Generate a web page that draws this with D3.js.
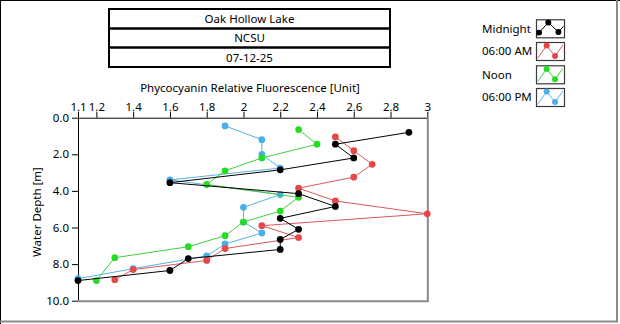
<!DOCTYPE html>
<html>
<head>
<meta charset="utf-8">
<script src="https://cdn.jsdelivr.net/npm/d3@7"></script>
<style>
  html, body { margin: 0; padding: 0; background: #fff; }
  svg { display: block; font-family: "Noto Sans", "Open Sans", sans-serif; }
</style>
</head>
<body>
<svg id="chart" width="620" height="324"></svg>
<script>
// Header rows
const titleLines = ["Oak Hollow Lake", "NCSU", "07-12-25"];

// Axis text
const xTitle = "Phycocyanin Relative Fluorescence [Unit]";
const yTitle = "Water Depth [m]";
const xTicks = [1.1, 1.2, 1.4, 1.6, 1.8, 2, 2.2, 2.4, 2.6, 2.8, 3];
const yTicks = [0, 2, 4, 6, 8, 10];

// Profiles: fluorescence value and depth of each reading
const seriesNames = ["Midnight", "06:00 AM", "Noon", "06:00 PM"];
const midnightX = [2.9, 2.5, 2.6, 2.2, 1.6, 2.3, 2.5, 2.2, 2.3, 2.2, 2.2, 1.7, 1.6, 1.1];
const midnightDepth = [0.8, 1.45, 2.2, 2.85, 3.55, 4.15, 4.85, 5.5, 6.1, 6.65, 7.2, 7.7, 8.35, 8.9];
const morningX = [2.5, 2.6, 2.7, 2.6, 2.3, 2.5, 3.0, 2.1, 2.3, 1.9, 1.8, 1.4, 1.3];
const morningDepth = [1.05, 1.8, 2.55, 3.25, 3.85, 4.55, 5.25, 5.9, 6.55, 7.15, 7.8, 8.3, 8.85];
const noonX = [2.3, 2.4, 2.1, 1.9, 1.8, 2.3, 2.2, 2.0, 1.9, 1.7, 1.3, 1.2];
const noonDepth = [0.65, 1.45, 2.2, 2.9, 3.65, 4.35, 5.1, 5.7, 6.45, 7.05, 7.65, 8.9];
const eveningX = [1.9, 2.1, 2.1, 2.2, 1.6, 2.2, 2.0, 2.0, 2.1, 1.9, 1.8, 1.4, 1.1];
const eveningDepth = [0.45, 1.2, 2.0, 2.75, 3.4, 4.2, 4.9, 5.7, 6.3, 6.9, 7.55, 8.25, 8.8];

const seriesColors = ["#000000", "#e5474b", "#22dd22", "#4aaee8"];
const lineColors = ["#000000", "#d9585b", "#3fcf3f", "#5ab2e2"];

const series = [
  { name: seriesNames[0], xs: midnightX, ds: midnightDepth, color: seriesColors[0], line: lineColors[0] },
  { name: seriesNames[1], xs: morningX, ds: morningDepth, color: seriesColors[1], line: lineColors[1] },
  { name: seriesNames[2], xs: noonX, ds: noonDepth, color: seriesColors[2], line: lineColors[2] },
  { name: seriesNames[3], xs: eveningX, ds: eveningDepth, color: seriesColors[3], line: lineColors[3] }
];

const svg = d3.select("#chart");
const W = 620, H = 324;

// Panel frame
svg.append("line").attr("x1", 0).attr("x2", W).attr("y1", 0.5).attr("y2", 0.5).attr("stroke", "#000");
svg.append("line").attr("x1", 0.5).attr("x2", 0.5).attr("y1", 0).attr("y2", H).attr("stroke", "#000");
svg.append("line").attr("x1", 617).attr("x2", 617).attr("y1", 0).attr("y2", 322).attr("stroke", "#8a8a8a").attr("stroke-width", 2);
svg.append("line").attr("x1", 0).attr("x2", 618).attr("y1", 321.5).attr("y2", 321.5).attr("stroke", "#8a8a8a").attr("stroke-width", 2);

// Header table
const hdr = { x: 109, w: 281, rows: [9, 28.5, 47.5, 67] };
titleLines.forEach((t, i) => {
  const y0 = hdr.rows[i], y1 = hdr.rows[i + 1];
  svg.append("rect").attr("x", hdr.x).attr("y", y0).attr("width", hdr.w).attr("height", y1 - y0)
    .attr("fill", "none").attr("stroke", "#000").attr("stroke-width", 2);
  svg.append("text").attr("x", hdr.x + hdr.w / 2).attr("y", (y0 + y1) / 2 + 4.3)
    .attr("text-anchor", "middle").attr("font-size", 11.5).attr("fill", "#000").text(t);
});

// Plot area
const plot = { left: 78, right: 427.3, top: 117.7, bottom: 300.7 };
const x = d3.scaleLinear().domain([1.1, 3]).range([plot.left, plot.right]);
const y = d3.scaleLinear().domain([0, 10]).range([plot.top, plot.bottom]);

// Frame of the plot area (sunken look)
svg.append("line").attr("x1", plot.left).attr("x2", plot.right).attr("y1", plot.top + 0.5).attr("y2", plot.top + 0.5).attr("stroke", "#000");
svg.append("line").attr("x1", plot.left + 0.5).attr("x2", plot.left + 0.5).attr("y1", plot.top).attr("y2", plot.bottom).attr("stroke", "#000");
svg.append("line").attr("x1", plot.right + 0.5).attr("x2", plot.right + 0.5).attr("y1", plot.top).attr("y2", plot.bottom + 1).attr("stroke", "#8a8a8a").attr("stroke-width", 2);
svg.append("line").attr("x1", plot.left).attr("x2", plot.right + 1.5).attr("y1", plot.bottom + 0.5).attr("y2", plot.bottom + 0.5).attr("stroke", "#8a8a8a").attr("stroke-width", 2);

// Axes
const xAxis = d3.axisTop(x).tickValues(xTicks).tickSize(6).tickSizeOuter(0)
  .tickFormat(d => d3.format("")(Math.round(d * 10) / 10));
const gx = svg.append("g").attr("transform", `translate(0,${plot.top})`).call(xAxis);
gx.select(".domain").remove();
gx.selectAll(".tick line").attr("stroke", "#000");
gx.selectAll(".tick text").attr("font-size", 11.5).attr("fill", "#000").attr("dy", "0.2em")
  .attr("font-family", "'Noto Sans', sans-serif");

const yAxis = d3.axisLeft(y).tickValues(yTicks).tickSize(6).tickSizeOuter(0)
  .tickFormat(d3.format(".1f"));
const gy = svg.append("g").attr("transform", `translate(${plot.left},0)`).call(yAxis);
gy.select(".domain").remove();
gy.selectAll(".tick line").attr("stroke", "#000");
gy.selectAll(".tick text").attr("font-size", 11.5).attr("fill", "#000").attr("x", -9)
  .attr("font-family", "'Noto Sans', sans-serif");

svg.append("text").attr("x", 250).attr("y", 92).attr("text-anchor", "middle")
  .attr("font-size", 11.5).attr("fill", "#000").text(xTitle);
svg.append("text").attr("transform", "translate(41,212) rotate(-90)").attr("text-anchor", "middle")
  .attr("font-size", 11.5).attr("fill", "#000").text(yTitle);

// Profiles, drawn so that Midnight ends up on top
const lineGen = d3.line().x(p => x(p[0])).y(p => y(p[1]));
const marker = d3.symbol().type(d3.symbolCircle).size(36);
const plotG = svg.append("g");
series.slice().reverse().forEach(s => {
  const pts = s.xs.map((v, i) => [v, s.ds[i]]);
  plotG.append("path").attr("d", lineGen(pts)).attr("fill", "none")
    .attr("stroke", s.line).attr("stroke-width", 1);
  plotG.selectAll(null).data(pts).enter().append("path")
    .attr("d", marker).attr("transform", p => `translate(${x(p[0])},${y(p[1])})`)
    .attr("fill", s.color);
});

// Legend
const leg = { textX: 482, boxX: 536, boxW: 28, boxH: 18, tops: [19.3, 42, 65.3, 88] };
const iconScaleX = d3.scaleLinear().domain([0, 1]).range([0, leg.boxW]);
const iconScaleY = d3.scaleLinear().domain([0, 1]).range([0, leg.boxH]);
const iconShapes = [
  { line: [[0.04, 0.9], [0.11, 0.74], [0.44, 0.18], [0.8, 0.7], [0.98, 0.4]], marks: [[0.11, 0.74], [0.44, 0.18], [0.8, 0.7]] },
  { line: [[0.06, 0.9], [0.38, 0.2], [0.68, 0.78], [0.96, 0.17]], marks: [[0.38, 0.2], [0.68, 0.78]] }
];
series.forEach((s, i) => {
  const top = leg.tops[i];
  svg.append("text").attr("x", leg.textX).attr("y", top + leg.boxH / 2 + 4.2)
    .attr("font-size", 11.5).attr("fill", "#000").text(s.name);
  const g = svg.append("g").attr("transform", `translate(${leg.boxX},${top})`);
  g.append("rect").attr("x", 0.5).attr("y", 0.5).attr("width", leg.boxW).attr("height", leg.boxH)
    .attr("fill", "#fff").attr("stroke", "#3a3a3a").attr("stroke-width", 1.2);
  const shape = iconShapes[i === 0 ? 0 : 1];
  g.append("path").attr("d", d3.line().x(p => iconScaleX(p[0])).y(p => iconScaleY(p[1]))(shape.line))
    .attr("fill", "none").attr("stroke", s.line).attr("stroke-width", 1);
  g.selectAll(null).data(shape.marks).enter().append("path")
    .attr("d", d3.symbol().type(d3.symbolCircle).size(28))
    .attr("transform", p => `translate(${iconScaleX(p[0])},${iconScaleY(p[1])})`)
    .attr("fill", s.color);
});
</script>
</body>
</html>
